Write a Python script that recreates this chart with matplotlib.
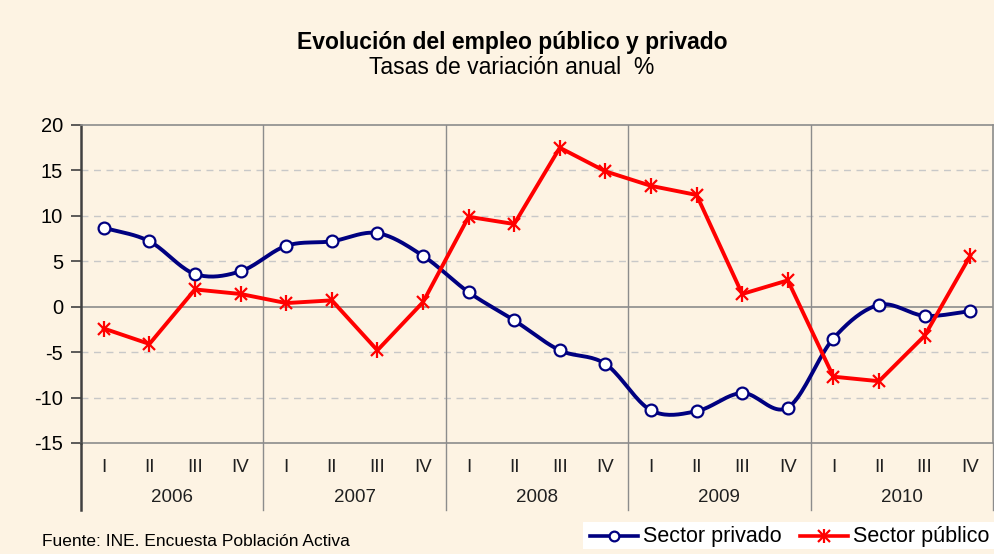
import numpy as np
import matplotlib
matplotlib.use("Agg")
import matplotlib.pyplot as plt
import matplotlib.transforms as mtrans

years = ["2006", "2007", "2008", "2009", "2010"]
quarters = ["I", "II", "III", "IV"]
privado = [8.7, 7.2, 3.6, 3.9, 6.7, 7.2, 8.1, 5.6, 1.6, -1.5, -4.8, -6.3,
           -11.4, -11.5, -9.5, -11.1, -3.5, 0.2, -1.0, -0.5]
publico = [-2.4, -4.1, 1.9, 1.4, 0.4, 0.7, -4.8, 0.5, 9.9, 9.1, 17.5, 14.9,
           13.3, 12.3, 1.4, 2.9, -7.7, -8.2, -3.2, 5.6]
yticks = [20, 15, 10, 5, 0, -5, -10, -15]

plt.rcParams["font.family"] = ["Liberation Sans", "DejaVu Sans"]

BG = "#FDF3E3"
W, H = 994, 554
fig = plt.figure(figsize=(W / 100, H / 100), dpi=100, facecolor=BG)
L, R, T, B = 81, 993, 125, 443
ax = fig.add_axes([L / W, 1 - B / H, (R - L) / W, (B - T) / H])
ax.set_facecolor(BG)

n = len(privado)
x = np.arange(n)
ax.set_xlim(-0.5, n - 0.5)
ax.set_ylim(-15, 20)


def catmull(xs, ys, steps=20):
    xs = np.asarray(xs, float)
    ys = np.asarray(ys, float)
    px = np.concatenate([[2 * xs[0] - xs[1]], xs, [2 * xs[-1] - xs[-2]]])
    py = np.concatenate([[2 * ys[0] - ys[1]], ys, [2 * ys[-1] - ys[-2]]])
    ox, oy = [], []
    for i in range(1, len(px) - 2):
        t = np.linspace(0, 1, steps, endpoint=False)
        for arr, out in ((px, ox), (py, oy)):
            p0, p1, p2, p3 = arr[i - 1], arr[i], arr[i + 1], arr[i + 2]
            out.extend(0.5 * ((2 * p1) + (-p0 + p2) * t +
                              (2 * p0 - 5 * p1 + 4 * p2 - p3) * t ** 2 +
                              (-p0 + 3 * p1 - 3 * p2 + p3) * t ** 3))
    ox.append(xs[-1]); oy.append(ys[-1])
    return np.array(ox), np.array(oy)


# grid
for v in [15, 10, 5, -5, -10]:
    ax.axhline(v, color="#C8C8C8", lw=1.0, ls=(0, (5, 4)), zorder=1)
ax.axhline(0, color="#8C8C8C", lw=1.2, zorder=1)
for k in range(1, len(years)):
    ax.axvline(k * 4 - 0.5, color="#8C8C8C", lw=1.0, zorder=1)

sx, sy = catmull(x, privado)
ax.plot(sx, sy, color="#000080", lw=2.8, zorder=3, solid_capstyle="round")
ax.plot(x, privado, ls="none", marker="o", ms=8.5, mfc="white", mec="#000080",
        mew=1.6, zorder=4)
ax.plot(x, publico, color="#FF0000", lw=2.8, zorder=3)
ax.plot(x, publico, ls="none", marker="x", ms=9, mec="#FF0000", mew=1.6, zorder=4)
ax.plot(x, publico, ls="none", marker="|", ms=11, mec="#FF0000", mew=1.6, zorder=4)

for s in ["top", "right", "bottom"]:
    ax.spines[s].set_color("#8C8C8C")
    ax.spines[s].set_linewidth(1.2)
ax.spines["left"].set_color("#404040")
ax.spines["left"].set_linewidth(1.8)

ax.set_yticks(yticks)
ax.set_yticklabels([str(v) for v in yticks], fontsize=14.5)
ax.tick_params(axis="y", length=7, width=1.2, color="#404040", pad=6)
ax.set_xticks([])

# category labels below the axis
cat_tr = mtrans.blended_transform_factory(ax.transData, fig.transFigure)
ql = quarters * len(years)
for i in range(n):
    ax.text(i, 1 - 467 / H, ql[i], transform=cat_tr, ha="center", va="center",
            fontsize=13.5, color="#202020")
for i, ylab in enumerate(years):
    ax.text(i * 4 + 1.5, 1 - 497 / H, ylab, transform=cat_tr, ha="center",
            va="center", fontsize=13.5, color="#202020")

for k in range(len(years) + 1):
    xv = k * 4 - 0.5
    col = "#404040" if k == 0 else "#8C8C8C"
    ax.plot([xv, xv], [1 - B / H, 1 - 510 / H], transform=cat_tr, color=col,
            lw=1.8 if k == 0 else 1.0, clip_on=False, zorder=5)

fig.text(512 / W, 1 - 42 / H, "Evolución del empleo público y privado",
         ha="center", va="center", fontsize=16.5, fontweight="bold")
fig.text(512 / W, 1 - 68 / H, "Tasas de variación anual  %", ha="center",
         va="center", fontsize=16.5)
fig.text(42 / W, 1 - 541 / H, "Fuente: INE. Encuesta Población Activa",
         ha="left", va="center", fontsize=12.5)

# legend
lax = fig.add_axes([583 / W, 1 - 549 / H, (W - 583) / W, 27 / H])
lax.set_xlim(583, W)
lax.set_ylim(0, 1)
lax.axis("off")
lax.add_patch(plt.Rectangle((583, 0), W - 583, 1, color="white", zorder=0))
lax.plot([590, 638], [0.5, 0.5], color="#000080", lw=2.6, zorder=2)
lax.plot([614], [0.5], marker="o", ms=7, mfc="white", mec="#000080", mew=1.6, zorder=3)
lax.text(643, 0.47, "Sector privado", ha="left", va="center", fontsize=15.5)
lax.plot([800, 848], [0.5, 0.5], color="#FF0000", lw=2.6, zorder=2)
lax.plot([824], [0.5], marker="x", ms=8, mec="#FF0000", mew=1.6, zorder=3)
lax.plot([824], [0.5], marker="|", ms=10, mec="#FF0000", mew=1.6, zorder=3)
lax.text(853, 0.47, "Sector público", ha="left", va="center", fontsize=15.5,
         clip_on=True)

fig.savefig("out.png", dpi=100, facecolor=BG)
